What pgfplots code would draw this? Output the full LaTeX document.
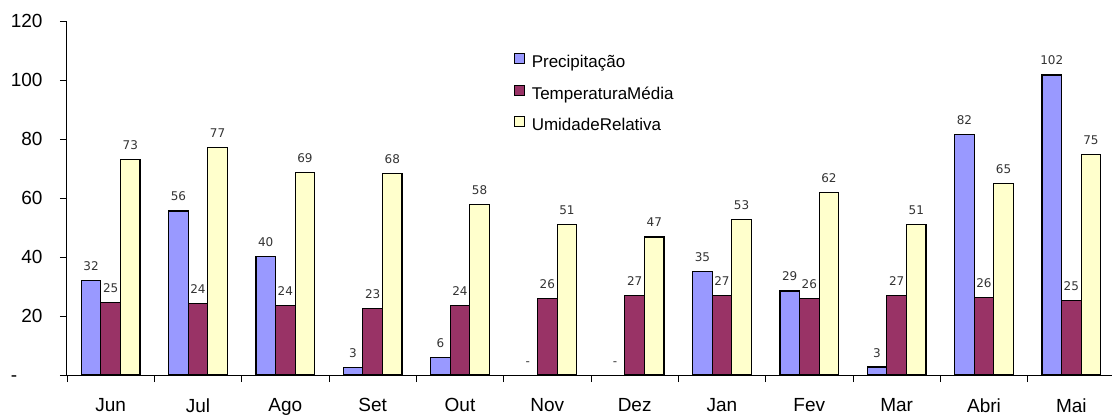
\documentclass[border=0pt]{standalone}
\usepackage{pgfplots}
\pgfplotsset{compat=1.18}
\usepackage{fontspec}
\setmainfont{Liberation Sans}
\newfontfamily\lblfont{DejaVu Sans}
\definecolor{cPrec}{HTML}{9999FF}
\definecolor{cTemp}{HTML}{993366}
\definecolor{cUmid}{HTML}{FFFFCC}
\begin{document}
\begin{tikzpicture}
\path[use as bounding box] (-67pt,-43pt) rectangle (1045pt,375pt);
\begin{axis}[
  at={(0pt,0pt)}, anchor=south west,
  scale only axis, width=1048pt, height=354pt,
  xmin=-0.5, xmax=11.5, ymin=0, ymax=120,
  clip=false,
  axis lines=left, axis line style={-, line width=1pt, black},
  ybar=0pt, bar width=19.6pt,
  xtick={0,...,11},
  xticklabels={Jun,Jul,Ago,Set,Out,Nov,Dez,Jan,Fev,Mar,Abri,Mai},
  minor xtick={-0.5,0.5,...,11.5},
  major x tick style={draw=none},
  minor tick length=7pt, major tick length=7pt,
  tick align=outside,
  tick style={black, line width=0.8pt},
  ytick={0,20,...,120},
  yticklabels={\rlap{-}\phantom{120},20,40,60,80,100,120},
  ticklabel style={font=\fontsize{19}{22}\selectfont},
  xticklabel style={yshift=-13pt},
  yticklabel style={xshift=-14pt},
  point meta=explicit symbolic,
  nodes near coords,
  every node near coord/.append style={font=\lblfont\fontsize{12}{14}\selectfont, anchor=base, yshift=10pt, inner sep=0pt, text=black!80},
  legend style={at={(0.4265,0.91)}, anchor=north west, draw=none, fill=none, inner sep=0pt,
    row sep=13pt, font=\fontsize{17}{20}\selectfont,
    nodes={inner sep=0pt, text height=12pt, text depth=4pt}},
  legend cell align=left,
  legend image code/.code={\path[draw=none,fill=none] (0pt,0pt) -- (17pt,0pt); \draw[#1, line width=1.2pt, draw=black] (0pt,0pt) rectangle (10pt,10pt);},
]
\addplot[fill=cPrec, draw=black, line width=1.2pt, bar shift=-19.6pt] coordinates {
 (0,31.9) [32] (1,55.6) [56] (2,40.1) [40] (3,2.6) [3] (4,6.0) [6]
 (7,35.1) [35] (8,28.5) [29] (9,2.7) [3] (10,81.4) [82] (11,101.7) [102]};
\addplot[fill=cTemp, draw=black, line width=1.2pt, bar shift=0pt] coordinates {
 (0,24.6) [25] (1,24.2) [24] (2,23.6) [24] (3,22.5) [23] (4,23.6) [24] (5,25.9) [26]
 (6,26.9) [27] (7,26.9) [27] (8,25.8) [26] (9,26.9) [27] (10,26.3) [26] (11,25.2) [25]};
\addplot[fill=cUmid, draw=black, line width=1.2pt, bar shift=19.6pt] coordinates {
 (0,73.1) [73] (1,77.1) [77] (2,68.7) [69] (3,68.2) [68] (4,57.9) [58] (5,51.1) [51]
 (6,46.8) [47] (7,52.8) [53] (8,62.0) [62] (9,51.1) [51] (10,64.9) [65] (11,74.8) [75]};
\legend{Precipitação,TemperaturaMédia,UmidadeRelativa}
\addplot[draw=none, fill=none, bar shift=-19.6pt, forget plot] coordinates {(5,0) [-] (6,0) [-]};
\end{axis}
\end{tikzpicture}
\end{document}
